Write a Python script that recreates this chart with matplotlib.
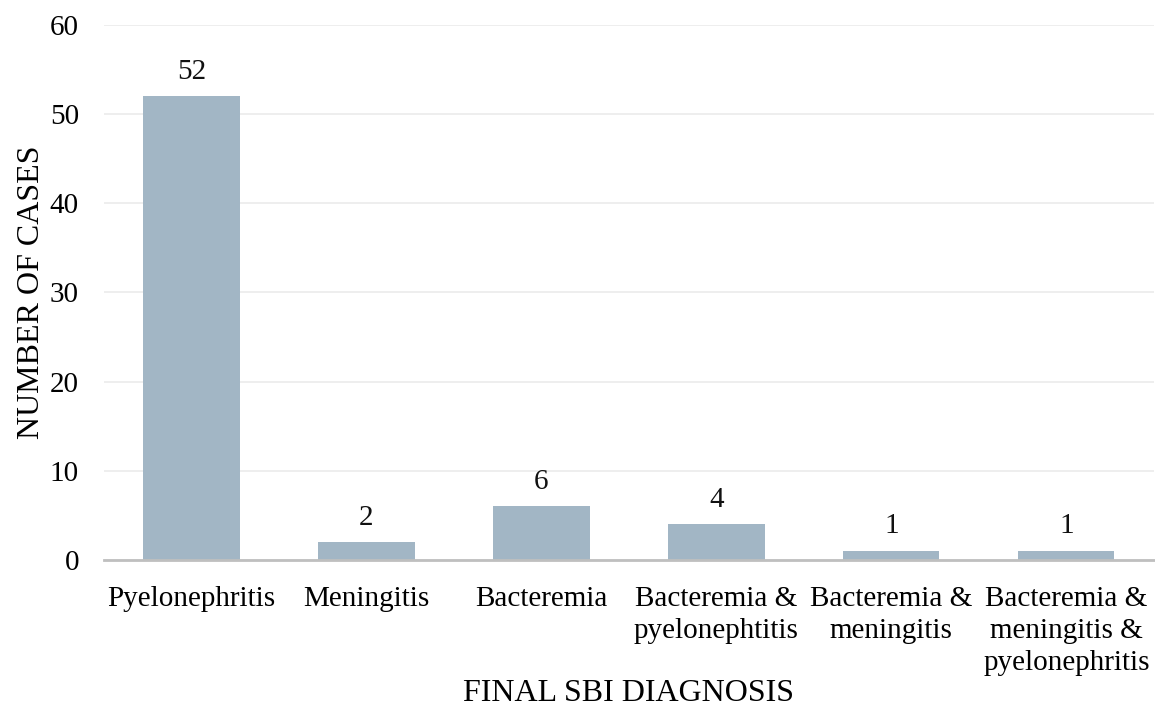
import matplotlib
matplotlib.use("Agg")
import matplotlib.pyplot as plt

categories = ["Pyelonephritis", "Meningitis", "Bacteremia",
              "Bacteremia &\npyelonephtitis", "Bacteremia &\nmeningitis",
              "Bacteremia &\nmeningitis &\npyelonephritis"]
cases = [52, 2, 6, 4, 1, 1]
yticks = [0, 10, 20, 30, 40, 50, 60]

plt.rcParams['font.family'] = ['Liberation Serif', 'DejaVu Serif']

fig = plt.figure(figsize=(11.55, 7.13), dpi=100)
ax = fig.add_axes([0.090, 0.2146, 0.909, 0.7504])

x = list(range(len(categories)))
bars = ax.bar(x, cases, width=0.55, color="#A2B6C5", zorder=3)
for xi, v in zip(x, cases):
    ax.text(xi, v + 1.3, str(v), ha="center", va="bottom", fontsize=21, color="#111111")

ax.set_xlim(-0.5, len(categories) - 0.5)
ax.set_ylim(0, 60)
ax.set_yticks(yticks)
ax.set_yticklabels([str(t) for t in yticks], fontsize=21)
ax.set_xticks(x)
ax.set_xticklabels(categories, fontsize=21, linespacing=1.3, va="top")
ax.tick_params(axis="both", length=0)
ax.tick_params(axis="x", pad=19)
ax.tick_params(axis="y", pad=18)

ax.grid(axis="y", color="#EBEBEB", linewidth=1.2, zorder=0)
for s in ["top", "right", "left"]:
    ax.spines[s].set_visible(False)
ax.spines["bottom"].set_color("#BFBFBF")
ax.spines["bottom"].set_linewidth(2)
ax.spines["bottom"].set_zorder(4)

ax.set_ylabel("NUMBER OF CASES", fontsize=23, labelpad=3)
ax.set_xlabel("FINAL SBI DIAGNOSIS", fontsize=23, labelpad=2)

fig.savefig("out.png", dpi=100)
